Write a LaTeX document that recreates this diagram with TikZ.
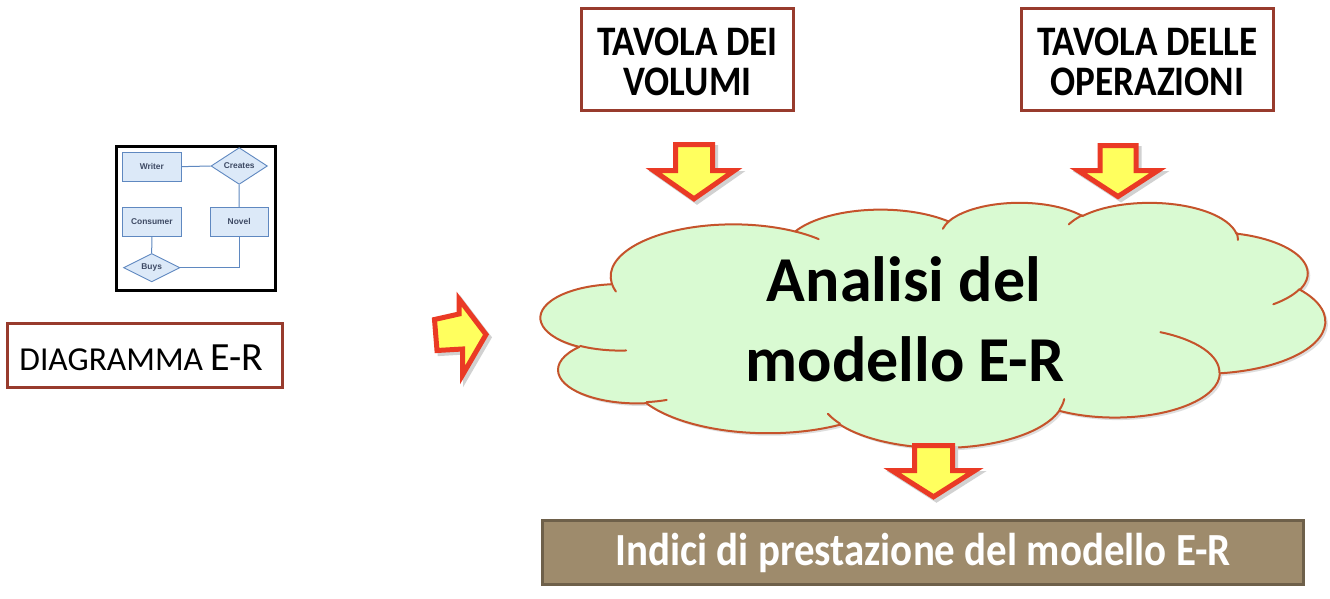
\documentclass[tikz,border=0pt]{standalone}
\usepackage{fontspec}
\setmainfont{Carlito}
\newfontfamily\erfont{Liberation Sans}
\usetikzlibrary{shapes.geometric}
\definecolor{cloudfill}{HTML}{D9FAD2}
\definecolor{cloudline}{HTML}{C5532B}
\definecolor{boxline}{HTML}{983B2D}
\definecolor{arrowfill}{HTML}{FFFF5E}
\definecolor{arrowline}{HTML}{EA3A25}
\definecolor{tanfill}{HTML}{9E8B6C}
\definecolor{tanline}{HTML}{6E604A}
\definecolor{erfill}{HTML}{DCE9F8}
\definecolor{erline}{HTML}{5F88C0}
\definecolor{ertext}{HTML}{3E4A64}
\newcommand\pang[4]{%
  \pgfmathsetmacro\pangtmp{atan2((#2)*sin(#4),(#3)*cos(#4))}%
  \pgfmathsetmacro\pangtmp{-(\pangtmp+360*round(((#4)-\pangtmp)/360))}%
  \expandafter\xdef\csname pa#1\endcsname{\pangtmp}}
\newcommand\cloudpath{(390,1437)
 arc[start angle=\paAs, end angle=\paAe, x radius=675.3pt, y radius=919pt]
 arc[start angle=\paBs, end angle=\paBe, x radius=533.3pt, y radius=726.7pt]
 arc[start angle=\paCs, end angle=\paCe, x radius=436.5pt, y radius=594.5pt]
 arc[start angle=\paDs, end angle=\paDe, x radius=485.7pt, y radius=659.5pt]
 arc[start angle=\paEs, end angle=\paEe, x radius=533.3pt, y radius=727.3pt]
 arc[start angle=\paFs, end angle=\paFe, x radius=677.5pt, y radius=922pt]
 arc[start angle=\paGs, end angle=\paGe, x radius=578.5pt, y radius=786.7pt]
 arc[start angle=\paHs, end angle=\paHe, x radius=675.2pt, y radius=921.5pt]
 arc[start angle=\paIs, end angle=\paIe, x radius=772pt, y radius=1054.3pt]
 arc[start angle=\paJs, end angle=\paJe, x radius=436pt, y radius=591.8pt]
 arc[start angle=\paKs, end angle=\paKe, x radius=434.5pt, y radius=594.5pt]
 -- cycle}
\newcommand\cloudticks{
 (469.3,2617.7) arc[start angle=\paas, end angle=\paae, x radius=434.5pt, y radius=594.5pt]
 (692.8,3489.9) arc[start angle=\pabs, end angle=\pabe, x radius=436pt, y radius=591.8pt]
 (1647.8,3909.0) arc[start angle=\pacs, end angle=\pace, x radius=675.2pt, y radius=921.5pt]
 (2882.7,3475.1) arc[start angle=\pads, end angle=\pade, x radius=675.2pt, y radius=921.5pt]
 (3412.9,2295.4) arc[start angle=\paes, end angle=\paee, x radius=578.5pt, y radius=786.7pt]
 (4179.8,1535.4) arc[start angle=\pafs, end angle=\pafe, x radius=533.3pt, y radius=727.3pt]
 (3832.4,542.6) arc[start angle=\pags, end angle=\page, x radius=485.7pt, y radius=659.5pt]
 (2907.8,395.2) arc[start angle=\pahs, end angle=\pahe, x radius=485.7pt, y radius=659.5pt]
 (2214.1,472.0) arc[start angle=\pais, end angle=\paie, x radius=436.5pt, y radius=594.5pt]
 (1400.0,519.2) arc[start angle=\pajs, end angle=\paje, x radius=675.3pt, y radius=919pt]
 (412.7,1578.9) arc[start angle=\paks, end angle=\pake, x radius=675.3pt, y radius=919pt]}
\newcommand\darr[6]{%
  \fill[arrowshadow] (#1-#5+3,#2+3) -- (#1+#5+3,#2+3) -- (#1+#5+3,#3+3) -- (#1+#6+3,#3+3) -- (#1+3,#4+3) -- (#1-#6+3,#3+3) -- (#1-#5+3,#3+3) -- cycle;
  \draw[blockarrow] (#1-#5,#2) -- (#1+#5,#2) -- (#1+#5,#3) -- (#1+#6,#3) -- (#1,#4) -- (#1-#6,#3) -- (#1-#5,#3) -- cycle;}
\begin{document}
\begin{tikzpicture}[x=1pt,y=-1pt,
  redbox/.style={draw=boxline, line width=3pt, fill=white, inner sep=0pt},
  boxtext/.style={anchor=base, inner sep=0pt, font=\fontsize{42}{42}\selectfont\bfseries},
  cloudtext/.style={anchor=base, inner sep=0pt, font=\fontsize{64}{64}\selectfont\bfseries},
  blockarrow/.style={fill=arrowfill, draw=arrowline, line width=5pt, line join=miter},
  arrowshadow/.style={fill=black!18, draw=black!18, line width=5pt, line join=miter},
  erbox/.style={draw=erline, fill=erfill, line width=0.9pt, minimum width=58.3pt, minimum height=28.7pt, inner sep=0pt, font=\erfont\bfseries\fontsize{8.4}{9}\selectfont, text=ertext},
  erdia/.style={diamond, draw=erline, fill=erfill, line width=0.9pt, minimum width=56.4pt, minimum height=28.4pt, inner sep=0pt, font=\erfont\bfseries\fontsize{8.4}{9}\selectfont, text=ertext},
  erlink/.style={draw=erline, line width=1pt}]
\useasboundingbox (0,0) rectangle (1330,598);
\pang{As}{6753}{9190}{-190.4875}\pang{Ae}{6753}{9190}{-66.7070}%
\pang{Bs}{5333}{7267}{-144.1024}\pang{Be}{5333}{7267}{-54.1572}%
\pang{Cs}{4365}{5945}{-145.8079}\pang{Ce}{4365}{5945}{-46.0849}%
\pang{Ds}{4857}{6595}{-130.9861}\pang{De}{4857}{6595}{-13.7444}%
\pang{Es}{5333}{7273}{-78.7089}\pang{Ee}{5333}{7273}{30.3180}%
\pang{Fs}{6775}{9220}{-46.2673}\pang{Fe}{6775}{9220}{84.0017}%
\pang{Gs}{5785}{7867}{0.6250}\pang{Ge}{5785}{7867}{114.6583}%
\pang{Hs}{6752}{9215}{22.4516}\pang{He}{6752}{9215}{137.6242}%
\pang{Is}{7720}{10543}{66.2426}\pang{Ie}{7720}{10543}{141.9536}%
\pang{Js}{4360}{5918}{-274.9421}\pang{Je}{4360}{5918}{-128.2065}%
\pang{Ks}{4345}{5945}{-246.8285}\pang{Ke}{4345}{5945}{-94.3096}%
\pang{as}{4345}{5945}{86.7420}\pang{ae}{4345}{5945}{113.1715}%
\pang{bs}{4360}{5918}{73.6105}\pang{be}{4360}{5918}{85.0580}%
\pang{cs}{6752}{9215}{137.6242}\pang{ce}{6752}{9215}{151.7053}%
\pang{ds}{6752}{9215}{6.4533}\pang{de}{6752}{9215}{22.4517}%
\pang{es}{5785}{7867}{-70.2924}\pang{ee}{5785}{7867}{0.6250}%
\pang{fs}{5333}{7273}{30.3180}\pang{fe}{5333}{7273}{58.0695}%
\pang{gs}{4857}{6595}{-13.7443}\pang{ge}{4857}{6595}{1.1146}%
\pang{hs}{4857}{6595}{-149.1815}\pang{he}{4857}{6595}{-130.9861}%
\pang{is}{4365}{5945}{-163.4943}\pang{ie}{4365}{5945}{-145.8079}%
\pang{js}{6753}{9190}{-66.7070}\pang{je}{6753}{9190}{-54.3876}%
\pang{ks}{6753}{9190}{157.6544}\pang{ke}{6753}{9190}{169.5126}%
% cloud shadow and cloud
\begin{scope}[shift={(543.5,204.5)}, xscale=0.181481, yscale=0.056713]
  \fill[black!13] \cloudpath;
\end{scope}
\begin{scope}[shift={(541,202)}, xscale=0.181481, yscale=0.056713]
  \filldraw[fill=cloudfill, draw=cloudline, line width=2pt, line join=round] \cloudpath;
  \draw[cloudline, line width=2pt, line cap=round] \cloudticks;
\end{scope}
\node[cloudtext] (an1) at (904,301.7) {Analisi del};
\node[cloudtext] (an2) at (905,381.7) {modello E-R};
% top boxes
\node[redbox, minimum width=212pt, minimum height=102pt] (vol) at (687.5,59.5) {};
\node[boxtext] (vol1) at (687.5,55) {\scalebox{0.885}[1]{TAVOLA DEI}};
\node[boxtext] (vol2) at (687.5,95) {\scalebox{0.885}[1]{VOLUMI}};
\node[redbox, minimum width=252pt, minimum height=102pt] (ops) at (1147.5,59.5) {};
\node[boxtext] (ops1) at (1147.5,55) {\scalebox{0.885}[1]{TAVOLA DELLE}};
\node[boxtext] (ops2) at (1147.5,95) {\scalebox{0.885}[1]{OPERAZIONI}};
% block arrows
\darr{694}{144.5}{170.5}{198.8}{18.5}{40.5}
\darr{1118}{145.5}{170.5}{196.5}{18}{40}
\darr{933.5}{445.5}{470.5}{496.8}{19}{41.5}
\fill[arrowshadow] (437.5,322.5) -- (440,353.5) -- (465.5,352) -- (465.5,378) -- (489,337.5) -- (462,302) -- (462,317) -- cycle;
\draw[blockarrow] (434.5,319.5) -- (437,350.5) -- (462.5,349) -- (462.5,375) -- (486,334.5) -- (459,299) -- (459,314) -- cycle;
% bottom box
\node[draw=tanline, fill=tanfill, line width=3pt, minimum width=761pt, minimum height=64pt, inner sep=0pt] (idx) at (923,552.5) {};
\node[anchor=base, inner sep=0pt, text=white, font=\fontsize{46}{46}\selectfont\bfseries] (idxt) at (923,565) {\scalebox{0.89}[1]{Indici di prestazione del modello E-R}};
% diagramma box
\node[draw=boxline, line width=3pt, fill=white, minimum width=275pt, minimum height=64pt, inner sep=0pt] (diag) at (145,355.5) {};
\node[anchor=base, inner sep=0pt] (diagt) at (141.5,370) {{\fontsize{33.5}{34}\selectfont DIAGRAMMA }{\fontsize{40}{40}\selectfont E-R}};
% ER thumbnail
\node[draw=black, line width=3pt, fill=white, minimum width=158.7pt, minimum height=143.7pt, inner sep=0pt] (thumb) at (195.8,218.3) {};
\node[erbox] (writer) at (151.85,166.65) {Writer};
\node[erdia] (creates) at (239.2,166) {Creates};
\node[erbox] (consumer) at (151.85,221.65) {Consumer};
\node[erbox] (novel) at (239.15,221.65) {Novel};
\node[erdia] (buys) at (151.7,267.7) {Buys};
\draw[erlink] (writer.east) -- (creates.west);
\draw[erlink] (creates.south) -- (novel.north);
\draw[erlink] (consumer.south) -- (buys.north);
\draw[erlink] (buys.east) -| (novel.south);
\end{tikzpicture}
\end{document}
